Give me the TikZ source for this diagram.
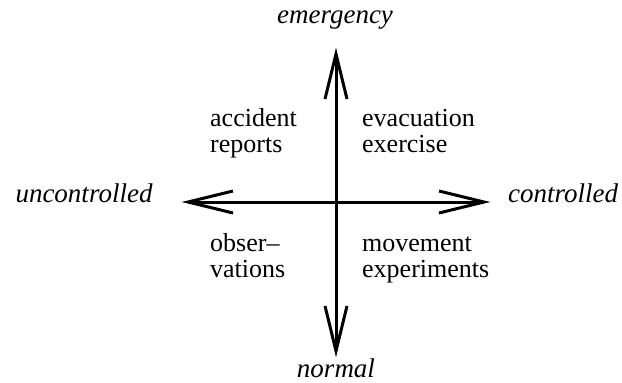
\documentclass[tikz,border=0pt]{standalone}
\usepackage{fontspec}
\setmainfont{Liberation Serif}
\usetikzlibrary{calc}
\tikzset{
  axis/.style={line width=3pt},
  barb/.style={line width=3pt, line join=miter, miter limit=10},
  pole/.style={font=\fontsize{27pt}{28pt}\selectfont\itshape, inner sep=0pt},
  quad/.style={font=\fontsize{26pt}{26pt}\selectfont, align=left, inner sep=0pt, anchor=base west},
}
\begin{document}
\begin{tikzpicture}[x=1pt,y=-1pt]
\useasboundingbox (0,0) rectangle (622,383);
\coordinate (c) at (336,202);
\coordinate (L) at (188,202);
\coordinate (R) at (484,202);
\coordinate (T) at (336,54);
\coordinate (B) at (336,351);
\draw[axis] (L) -- (R);
\draw[axis] (T) -- (B);
\draw[barb] ($(L)+(45,-11)$) -- (L) -- ($(L)+(45,11)$);
\draw[barb] ($(R)+(-45,-11)$) -- (R) -- ($(R)+(-45,11)$);
\draw[barb] ($(T)+(-11,45)$) -- (T) -- ($(T)+(11,45)$);
\draw[barb] ($(B)+(-11,-45)$) -- (B) -- ($(B)+(11,-45)$);
\node[pole, anchor=base] (em) at (335,23) {emergency};
\node[pole, anchor=base] (no) at (336,377) {normal};
\node[pole, anchor=base] (un) at (84,202) {uncontrolled};
\node[pole, anchor=base] (co) at (563,202) {controlled};
\node[quad] (ar) at (210,152) {accident\\reports};
\node[quad] (ev) at (362,152) {evacuation\\exercise};
\node[quad] (ob) at (210,277) {obser--\\vations};
\node[quad] (mo) at (362,277) {movement\\experiments};
\end{tikzpicture}
\end{document}
